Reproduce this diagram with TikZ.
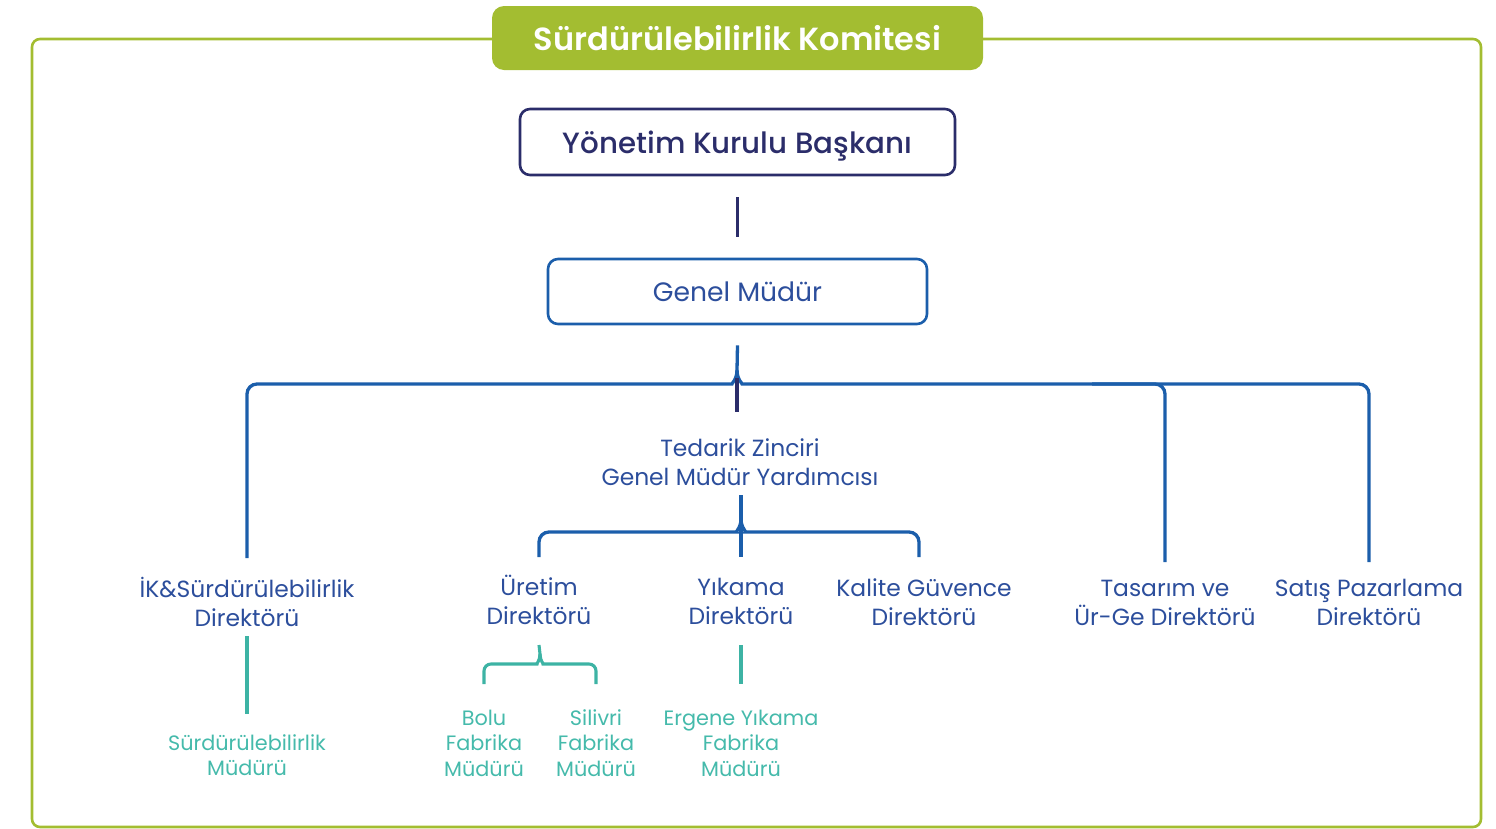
\documentclass[tikz,border=0pt]{standalone}
\usepackage{fontspec}
\setmainfont{Poppins}
\newfontfamily\popmed{Poppins Medium}
\newfontfamily\popsemi{Poppins SemiBold}
\usetikzlibrary{calc}
\definecolor{komgreen}{HTML}{A3BD31}
\definecolor{navy}{HTML}{2B2D6A}
\definecolor{orgblue}{HTML}{1B5EAB}
\definecolor{textblue}{HTML}{2C4E9C}
\definecolor{orgteal}{HTML}{3DB3A4}
\definecolor{mgrteal}{HTML}{45BAAB}
\tikzset{
  orgbox/.style={draw, rounded corners=10pt, line width=2.6pt, fill=white, inner sep=0pt, text depth=0pt},
  dirtext/.style={align=center, text=textblue, inner sep=0pt, font=\fontsize{23.4}{29}\selectfont},
  mgrtext/.style={align=center, text=mgrteal, inner sep=0pt, font=\fontsize{20.8}{25.5}\selectfont},
  navyline/.style={draw=navy, line width=3.2pt},
  blueline/.style={draw=orgblue, line width=3.3pt, rounded corners=10pt},
  tealline/.style={draw=orgteal, line width=3.1pt, rounded corners=7pt}
}

\begin{document}
\begin{tikzpicture}[x=1pt,y=-1pt]
  \useasboundingbox (0,0) rectangle (1496,828);
  % frame and title
  \draw[komgreen, line width=2.6pt, rounded corners=8pt] (32,39) rectangle (1481,827);
  \node[fill=komgreen, rounded corners=12pt, minimum width=491pt, minimum height=64pt, text depth=0pt,
        text=white, font=\popsemi\fontsize{32}{36}\selectfont] (komite) at (737.5,38) {Sürdürülebilirlik Komitesi};

  % boxes
  \node[orgbox, draw=navy, text=navy, minimum width=435pt, minimum height=66pt,
        font=\popmed\fontsize{29.3}{33}\selectfont] (ykb) at (737.5,142) {Yönetim Kurulu Başkanı};
  \node[orgbox, draw=orgblue, text=textblue, minimum width=379pt, minimum height=65pt,
        font=\fontsize{26.6}{30}\selectfont] (gm) at (737.5,291.5) {Genel Müdür};

  % directors
  \node[dirtext] (tz) at (740,462) {Tedarik Zinciri\\Genel Müdür Yardımcısı};
  \node[dirtext] (ik) at (247,602) {İK\&Sürdürülebilirlik\\Direktörü};
  \node[dirtext] (uretim) at (539,600) {Üretim\\Direktörü};
  \node[dirtext] (yikama) at (741,601) {Yıkama\\Direktörü};
  \node[dirtext] (kalite) at (924,602) {Kalite Güvence\\Direktörü};
  \node[dirtext] (tasarim) at (1165,603) {Tasarım ve\\Ür-Ge Direktörü};
  \node[dirtext] (satis) at (1369,602) {Satış Pazarlama\\Direktörü};

  % managers
  \node[mgrtext] (sm) at (247,755) {Sürdürülebilirlik\\Müdürü};
  \node[mgrtext] (bolu) at (484,743) {Bolu\\Fabrika\\Müdürü};
  \node[mgrtext] (silivri) at (596,743) {Silivri\\Fabrika\\Müdürü};
  \node[mgrtext] (ergene) at (741,743) {Ergene Yıkama\\Fabrika\\Müdürü};

  % rows for the connector ends
  \coordinate (row1) at (0,558);
  \coordinate (row1b) at (0,562);
  \coordinate (row2) at (0,557);
  \coordinate (row3) at (0,684);
  \coordinate (split) at (737,370);
  \coordinate (split2) at (741,519);
  \coordinate (split3) at (540,654);

  \draw[navyline] ([yshift=-21pt]ykb.south) -- ([yshift=21pt]gm.north);

  % Genel Mudur brace
  \draw[blueline] ([yshift=-20pt]gm.south) -- (split);
  \draw[blueline] (split) .. controls (737,380) and (731,384) .. (722,384) -| (ik |- row1);
  \draw[blueline] (split) .. controls (737,380) and (743,384) .. (752,384) -| (tasarim |- row1b);
  \draw[blueline] (1092,384) -| (satis |- row1b);
  \draw[navyline] (split |- 0,378) -- (split |- 0,412);

  % Tedarik Zinciri brace
  \draw[blueline] (split2 |- 0,495) -- (split2) -- (split2 |- row2);
  \draw[blueline] (split2) .. controls (741,528) and (735,532) .. (727,532) -| (uretim |- row2);
  \draw[blueline] (split2) .. controls (741,528) and (747,532) .. (755,532) -| ([xshift=-5pt]kalite.north |- row2);

  % teal links
  \draw[tealline] (ik.south |- 0,636) -- (sm.north |- 0,714);
  \draw[tealline] (uretim.south |- 0,645) -- (split3);
  \draw[tealline] (split3) .. controls (540,661) and (536,664) .. (530,664) -| (bolu |- row3);
  \draw[tealline] (split3) .. controls (540,661) and (544,664) .. (550,664) -| (silivri |- row3);
  \draw[tealline] (yikama.south |- 0,645) -- (ergene |- row3);
\end{tikzpicture}
\end{document}
